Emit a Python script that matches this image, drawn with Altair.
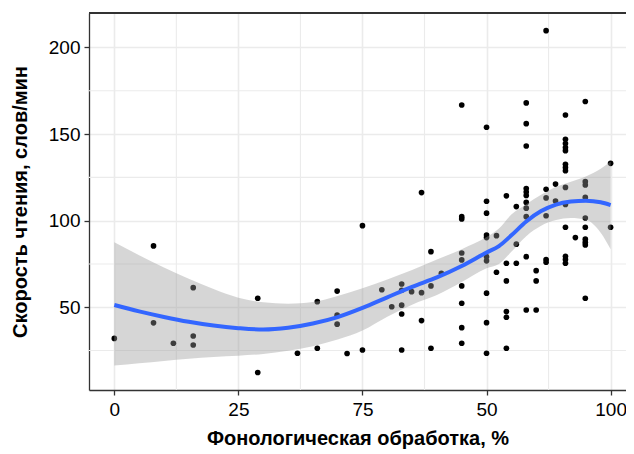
import altair as alt
import pandas as pd

# ---- observed points (x = phonological processing %, y = reading speed) ----
pt_x = [0,
        7.9, 7.9,
        11.9,
        15.9, 15.9, 15.9,
        28.9, 28.9,
        36.9,
        40.9, 40.9,
        44.9, 44.9, 44.9,
        46.9,
        50, 50,
        53.9,
        55.9,
        57.9, 57.9, 57.9, 57.9, 57.9,
        59.9,
        61.9, 61.9, 61.9,
        63.8, 63.8, 63.8,
        65.9,
        70, 70, 70, 70, 70, 70, 70, 70, 70,
        75, 75, 75, 75, 75, 75, 75, 75, 75, 75,
        77, 77,
        79, 79, 79, 79, 79, 79,
        81, 81, 81,
        83, 83, 83, 83, 83, 83, 83, 83, 83, 83, 83,
        85, 85, 85,
        87, 87, 87, 87, 87, 87,
        88.9, 88.9,
        90.9, 90.9, 90.9, 90.9, 90.9, 90.9, 90.9, 90.9, 90.9, 90.9, 90.9, 90.9, 90.9, 90.9,
        92.9,
        94.9, 94.9, 94.9, 94.9, 94.9, 94.9, 94.9, 94.9, 94.9, 94.9,
        100, 100]
pt_y = [32,
        85.4, 41,
        29.2,
        61.3, 33.4, 28.2,
        55.2, 12.3,
        23.4,
        53.2, 26.3,
        59.3, 45.4, 40.2,
        23.3,
        97.1, 25.3,
        60.1,
        50.3,
        63.4, 59.8, 51.2, 46.1, 25.3,
        59,
        116.2, 58.4, 42.3,
        82.1, 62.3, 26.3,
        69.6,
        166.8, 102.3, 101, 81.3, 77.3, 62.3, 52.3, 38.2, 29.2,
        153.9, 111.2, 104.3, 91.7, 90.2, 79.2, 76.8, 58.1, 41.1, 23.4,
        91.3, 70.2,
        114.3, 75.4, 65.2, 47.5, 44.2, 26.3,
        108.1, 86.4, 75.4,
        168, 156, 143.1, 118.5, 116.5, 114.5, 110.5, 107.2, 102.3, 79.2, 48.4,
        71.1, 65.2, 48.4,
        209.7, 118.1, 113.1, 102.8, 77.5, 76,
        121.1, 111.3,
        161, 147, 144.5, 142.2, 140.4, 132.5, 130.7, 128.8, 119.2, 109.3, 96.2, 79.4, 77.5, 75.4,
        90.2,
        168.8, 122.5, 120.6, 113.4, 101.5, 96.2, 89.3, 87.5, 86, 55.2,
        133.1, 96.2]

# ---- smoothed curve and its confidence band ----
sm_x = [0, 5, 10, 15, 20, 25, 30, 35, 40, 45, 50, 55, 60, 65, 70, 75, 77.5,
        80, 83, 86, 89, 92, 95, 98, 100]
sm_y = [51.3, 47.6, 44.4, 41.6, 39.4, 37.9, 37.1, 38.1, 40.6, 44.3, 49.6, 55.7,
        61.8, 67.2, 73.8, 81.6, 85.3, 91.5, 99.5, 105.5, 109.3, 111.0, 111.5, 110.6, 109.0]
sm_lo = [16.3, 17.6, 19.0, 20.3, 21.3, 22.0, 23.0, 24.8, 27.5, 31.3, 36.5, 44.5,
         51.5, 57.0, 64.5, 72.5, 75.0, 82.0, 91.0, 97.0, 100.3, 101.5, 100.5, 93.0, 83.5]
sm_hi = [87.5, 80.0, 73.0, 66.5, 60.5, 55.5, 52.8, 52.0, 53.0, 56.5, 61.0, 66.0,
         71.5, 77.5, 83.5, 90.5, 95.5, 103.5, 109.5, 115.0, 119.5, 122.5, 125.5, 130.0, 134.0]

# ---- axes ----
x_major = [0, 25, 50, 75, 100]
x_tick_labels = ["0", "25", "75", "50", "100"]
x_minor = [12.5, 37.5, 62.5, 87.5]
y_major = [50, 100, 150, 200]
y_minor = [25, 75, 125, 175]

x_title = "Фонологическая обработка, %"
y_title = "Скорость чтения, слов/мин"

W, H = 537, 377
FONT = "Liberation Sans"

pts = pd.DataFrame({"x": pt_x, "y": pt_y})
sm = pd.DataFrame({"x": sm_x, "y": sm_y, "lo": sm_lo, "hi": sm_hi})
xminor_df = pd.DataFrame({"x": x_minor})
yminor_df = pd.DataFrame({"y": y_minor})

label_map = "{" + ",".join(f"'{v}':'{l}'" for v, l in zip(x_major, x_tick_labels)) + "}"

x_scale = alt.Scale(domain=[-5.1, 103.1], nice=False, zero=False)
y_scale = alt.Scale(domain=[2.2, 219.9], nice=False, zero=False)

x_axis = alt.Axis(values=x_major, title=x_title, labelExpr=f"{label_map}[datum.label] || datum.label",
                  grid=True, labelPadding=5, titlePadding=9)
y_axis = alt.Axis(values=y_major, title=y_title, grid=True, labelPadding=4, titlePadding=18)

X = lambda f="x": alt.X(f"{f}:Q", scale=x_scale, axis=x_axis)
Y = lambda f="y": alt.Y(f"{f}:Q", scale=y_scale, axis=y_axis)

minor_v = alt.Chart(xminor_df).mark_rule(color="#EBEBEB", strokeWidth=1.1).encode(x=X())
minor_h = alt.Chart(yminor_df).mark_rule(color="#EBEBEB", strokeWidth=1.1).encode(y=Y())

points = alt.Chart(pts).mark_circle(size=32, color="black", opacity=1).encode(x=X(), y=Y())

band = alt.Chart(sm).mark_area(color="#999999", opacity=0.4, interpolate="monotone").encode(
    x=X(), y=Y("lo"), y2="hi")

line = alt.Chart(sm).mark_line(color="#3366FF", strokeWidth=4, interpolate="monotone").encode(
    x=X(), y=Y())

top_border = alt.Chart(sm).mark_rule(color="#333333", strokeWidth=1.5).encode(
    x=alt.value(0), x2=alt.value(W), y=alt.value(0))

chart = alt.layer(minor_v, minor_h, points, band, line, top_border).properties(
    width=W, height=H,
    autosize=alt.AutoSizeParams(type="none"),
    padding={"left": 81, "top": 5, "right": 0, "bottom": 62},
).configure_view(stroke=None).configure_axis(
    labelFont=FONT, labelFontSize=19, labelColor="black",
    titleFont=FONT, titleFontSize=20, titleFontWeight="bold", titleColor="black",
    gridColor="#EBEBEB", gridWidth=1.6,
    domainColor="#333333", domainWidth=1.3,
    tickColor="#333333", tickSize=5, tickWidth=1.3,
)

chart.save("out.html", embed_options={"renderer": "svg", "actions": False})
